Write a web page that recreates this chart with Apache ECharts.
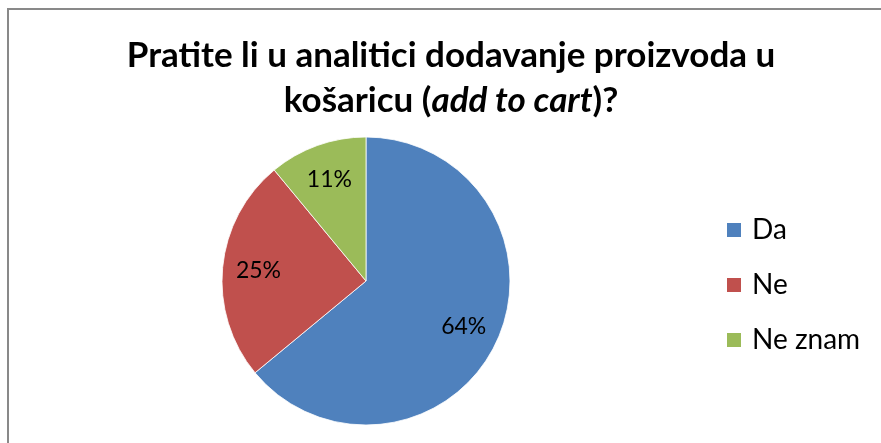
<!DOCTYPE html>
<html>
<head>
<meta charset="utf-8">
<script src="https://cdn.jsdelivr.net/npm/echarts@6/dist/echarts.min.js"></script>
<style>
    html, body { margin: 0; padding: 0; background: #fff; }
    #frame {
        position: absolute; left: 7px; top: 8px; width: 1000px; height: 1000px;
        border-left: 2px solid #898989; border-top: 2px solid #898989;
    }
    #chart { position: absolute; left: 0; top: 0; width: 881px; height: 443px; }
</style>
</head>
<body>
<div id="frame"></div>
<div id="chart"></div>
<script>
// podaci s grafikona
const categories = ['Da', 'Ne', 'Ne znam']
const values = [64, 25, 11]
const colors = ['#4F81BD', '#C0504D', '#9BBB59']

const FONT = 'Lato'
const pieData = categories.map((name, i) => ({
    name: name,
    value: values[i],
    itemStyle: { color: colors[i] }
}))

const myChart = echarts.init(document.getElementById('chart'))
myChart.setOption({
    animation: false,
    title: {
        text: 'Pratite li u analitici dodavanje proizvoda u\nkošaricu ({i|add to cart})?',
        left: 446,
        top: 28,
        textAlign: 'center',
        textStyle: {
            fontFamily: FONT,
            fontSize: 35,
            fontWeight: 'bold',
            color: '#000',
            lineHeight: 45,
            rich: {
                i: {
                    fontFamily: FONT,
                    fontSize: 35,
                    fontWeight: 'bold',
                    fontStyle: 'italic',
                    color: '#000',
                    lineHeight: 45
                }
            }
        }
    },
    legend: {
        orient: 'vertical',
        left: 720,
        top: 211,
        itemWidth: 16,
        itemHeight: 16,
        itemGap: 27,
        icon: 'rect',
        data: categories,
        selectedMode: false,
        textStyle: {
            fontFamily: FONT,
            fontSize: 28,
            lineHeight: 28,
            color: '#000',
            padding: [0, 0, 0, 5]
        }
    },
    series: [
        {
            name: 'odgovori',
            type: 'pie',
            center: [366, 281],
            radius: 144,
            startAngle: 90,
            clockwise: true,
            silent: true,
            label: { show: false },
            labelLine: { show: false },
            itemStyle: { borderColor: '#fff', borderWidth: 0.8 },
            data: pieData
        },
        {
            // nevidljivi krug samo za oznake postotaka
            name: 'oznake',
            type: 'pie',
            center: [366, 281],
            radius: 210,
            startAngle: 90,
            clockwise: true,
            silent: true,
            itemStyle: { color: 'rgba(0,0,0,0)' },
            label: {
                show: true,
                position: 'inside',
                formatter: '{c}%',
                fontFamily: FONT,
                fontSize: 23,
                color: '#000'
            },
            labelLine: { show: false },
            data: categories.map((name, i) => ({ name: name, value: values[i] }))
        }
    ]
})
window.addEventListener('resize', myChart.resize)
</script>
</body>
</html>
